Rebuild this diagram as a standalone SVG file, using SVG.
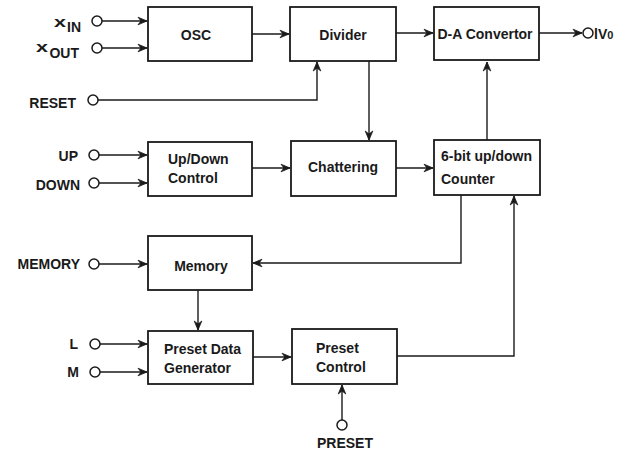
<svg xmlns="http://www.w3.org/2000/svg" width="629" height="454" viewBox="0 0 629 454">
<defs>
<style>
.box{fill:#fff;stroke:#1a1a1a;stroke-width:1.8}
.ln{fill:none;stroke:#1a1a1a;stroke-width:1.4}
.pin{fill:#fff;stroke:#1a1a1a;stroke-width:1.5}
text{font-family:"Liberation Sans",Arial,Helvetica,sans-serif;font-weight:bold;font-size:14px;fill:#1a1a1a}
.c{text-anchor:middle}
.e{text-anchor:end}
.x{font-size:15px}
</style>
<marker id="arr" viewBox="-10 -5 11 10" refX="0" refY="0" markerWidth="11" markerHeight="10" markerUnits="userSpaceOnUse" orient="auto">
<path d="M-9,-3.8 L0,0 L-9,3.8 L-6,0 z" fill="#1a1a1a" stroke="#1a1a1a" stroke-width="0.8" stroke-linejoin="miter"/>
</marker>
</defs>
<rect width="629" height="454" fill="#fff"/>

<g id="connectors">
<path class="ln" d="M102,21 H147" marker-end="url(#arr)"/>
<path class="ln" d="M102,48 H147" marker-end="url(#arr)"/>
<path class="ln" d="M252,34 H289" marker-end="url(#arr)"/>
<path class="ln" d="M98,100 H317 V62" marker-end="url(#arr)"/>
<path class="ln" d="M396,33 H433" marker-end="url(#arr)"/>
<path class="ln" d="M539,33 H582" marker-end="url(#arr)"/>
<path class="ln" d="M369,61 V140" marker-end="url(#arr)"/>
<path class="ln" d="M99,155 H147" marker-end="url(#arr)"/>
<path class="ln" d="M99,183 H147" marker-end="url(#arr)"/>
<path class="ln" d="M252,168 H290" marker-end="url(#arr)"/>
<path class="ln" d="M396,168 H433" marker-end="url(#arr)"/>
<path class="ln" d="M487,140 V62" marker-end="url(#arr)"/>
<path class="ln" d="M461,195 V263 H253" marker-end="url(#arr)"/>
<path class="ln" d="M99,264 H147" marker-end="url(#arr)"/>
<path class="ln" d="M198,290 V330" marker-end="url(#arr)"/>
<path class="ln" d="M100,344 H147" marker-end="url(#arr)"/>
<path class="ln" d="M100,372 H147" marker-end="url(#arr)"/>
<path class="ln" d="M253,357 H291" marker-end="url(#arr)"/>
<path class="ln" d="M397,356 H514 V196" marker-end="url(#arr)"/>
<path class="ln" d="M342,420 V385" marker-end="url(#arr)"/>
</g>

<g id="pins">
<g id="pin-xin"><circle class="pin" cx="97" cy="21" r="5"/><text x="54" y="27" class="x" textLength="12" lengthAdjust="spacingAndGlyphs">x</text><text x="81" y="32" class="e">IN</text></g>
<g id="pin-xout"><circle class="pin" cx="97" cy="48" r="5"/><text x="36" y="52" class="x" textLength="12" lengthAdjust="spacingAndGlyphs">x</text><text x="79" y="58" class="e">OUT</text></g>
<g id="pin-reset"><circle class="pin" cx="93" cy="100" r="5"/><text x="76" y="108" class="e">RESET</text></g>
<g id="pin-vo"><circle class="pin" cx="588" cy="33" r="5"/><text x="594" y="39">lV<tspan font-size="11">0</tspan></text></g>
<g id="pin-up"><circle class="pin" cx="94" cy="155" r="5"/><text x="78" y="161" class="e">UP</text></g>
<g id="pin-down"><circle class="pin" cx="94" cy="183" r="5"/><text x="80" y="190" class="e">DOWN</text></g>
<g id="pin-memory"><circle class="pin" cx="94" cy="264" r="5"/><text x="80" y="269" class="e">MEMORY</text></g>
<g id="pin-l"><circle class="pin" cx="95" cy="344" r="5"/><text x="78" y="349" class="e">L</text></g>
<g id="pin-m"><circle class="pin" cx="95" cy="372" r="5"/><text x="79" y="377" class="e">M</text></g>
<g id="pin-preset"><circle class="pin" cx="342" cy="425" r="5"/><text x="345" y="448" class="c">PRESET</text></g>
</g>

<g id="osc"><rect class="box" x="148" y="7" width="104" height="54"/><text x="196" y="40" class="c">OSC</text></g>
<g id="divider"><rect class="box" x="290" y="7" width="106" height="54"/><text x="343" y="40" class="c">Divider</text></g>
<g id="da"><rect class="box" x="434" y="7" width="105" height="53"/><text x="485" y="39" class="c">D-A Convertor</text></g>
<g id="updown"><rect class="box" x="148" y="142" width="104" height="54"/><text x="168" y="164">Up/Down</text><text x="168" y="183">Control</text></g>
<g id="chattering"><rect class="box" x="291" y="141" width="105" height="55"/><text x="343" y="172" class="c">Chattering</text></g>
<g id="counter"><rect class="box" x="434" y="140" width="106" height="55"/><text x="441" y="161">6-bit up/down</text><text x="441" y="184">Counter</text></g>
<g id="memory"><rect class="box" x="148" y="236" width="104" height="54"/><text x="201" y="271" class="c">Memory</text></g>
<g id="pdg"><rect class="box" x="148" y="331" width="105" height="53"/><text x="164" y="354">Preset Data</text><text x="164" y="373">Generator</text></g>
<g id="pc"><rect class="box" x="292" y="329" width="105" height="55"/><text x="316" y="353">Preset</text><text x="316" y="372">Control</text></g>
</svg>
